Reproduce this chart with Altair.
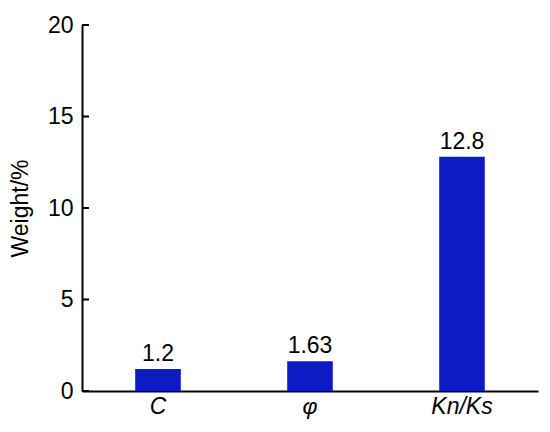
import altair as alt
import pandas as pd

categories = ["C", "φ", "Kn/Ks"]
weights = [1.2, 1.63, 12.8]
labels = ["1.2", "1.63", "12.8"]
y_ticks = [0, 5, 10, 15, 20]

df = pd.DataFrame({"cat": categories, "w": weights, "lab": labels})
ticks_df = pd.DataFrame({"v": y_ticks})

FONT = "Liberation Sans"
FS = 23
yscale = alt.Scale(domain=[0, 20], nice=False, zero=True)
xscale = alt.Scale(paddingInner=0.7, paddingOuter=0.35)

base = alt.Chart(df)
bars = base.mark_bar(color="#0D1BC4").encode(
    x=alt.X("cat:N", sort=categories, scale=xscale, title=None,
            axis=alt.Axis(labelAngle=0, ticks=False, labelFontStyle="italic",
                          labelFontSize=FS, labelFont=FONT, labelColor="black",
                          labelPadding=4, domainColor="black", domainWidth=2)),
    y=alt.Y("w:Q", scale=yscale, title="Weight/%",
            axis=alt.Axis(values=y_ticks, ticks=False, grid=False, labelFontSize=FS,
                          labelFont=FONT, labelColor="black", labelPadding=9,
                          titleFont=FONT, titleFontSize=FS, titleFontWeight="normal",
                          titleColor="black", titlePadding=15,
                          domainColor="black", domainWidth=2)),
)
text = base.mark_text(baseline="bottom", dy=-3, fontSize=FS, font=FONT, color="black").encode(
    x=alt.X("cat:N", sort=categories, scale=xscale),
    y=alt.Y("w:Q", scale=yscale),
    text="lab:N",
)
tick_rules = alt.Chart(ticks_df).mark_rule(color="black", strokeWidth=2).encode(
    y=alt.Y("v:Q", scale=yscale),
    x=alt.value(0),
    x2=alt.value(7),
)

chart = alt.layer(bars, text, tick_rules).properties(
    width=456, height=366,
    autosize=alt.AutoSizeParams(type="none"),
    padding={"left": 74, "top": 17, "right": 4, "bottom": 33},
).configure_view(stroke=None)

chart.save("out.html", embed_options={"renderer": "svg", "actions": False})
